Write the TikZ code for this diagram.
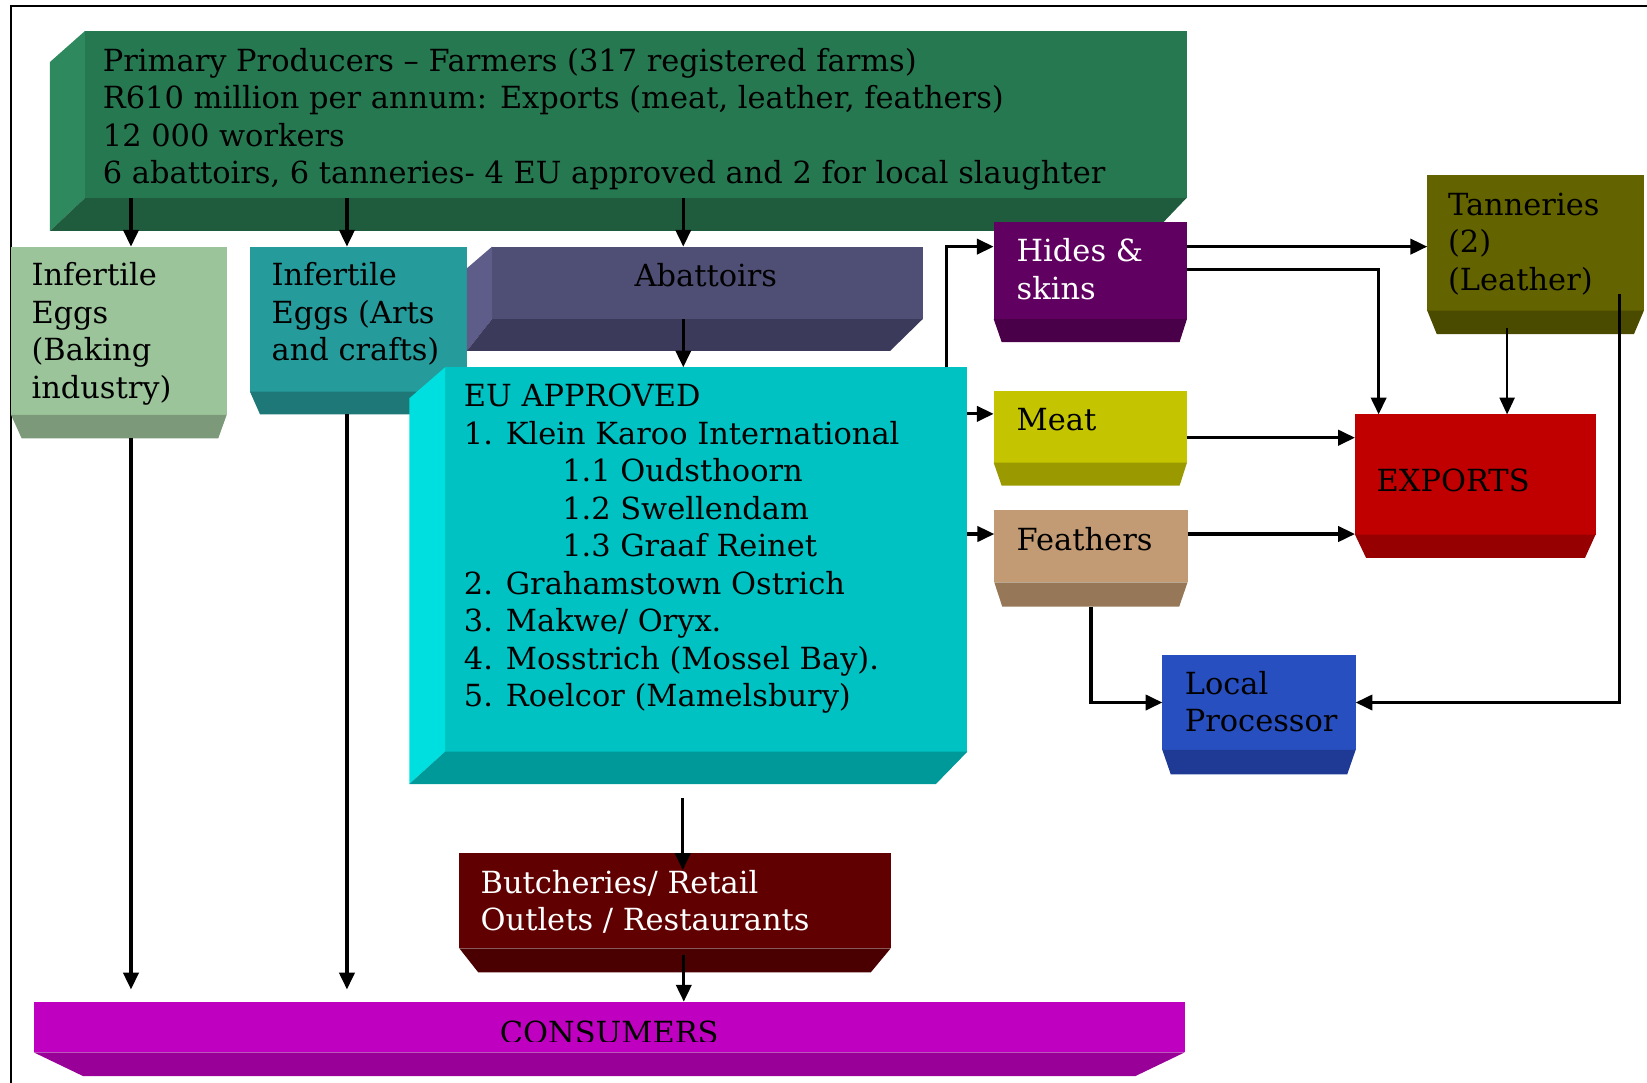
\documentclass[tikz,border=0pt]{standalone}
\usepackage{fontspec}
\setmainfont{DejaVu Serif}
\usetikzlibrary{calc,arrows.meta}
\definecolor{cPrim}{HTML}{267850}
\definecolor{cPrimL}{HTML}{2E8A5E}
\definecolor{cPrimD}{HTML}{1F5C3E}
\definecolor{cEggA}{HTML}{9CC49A}
\definecolor{cEggAD}{HTML}{7C9A7A}
\definecolor{cEggB}{HTML}{269B9B}
\definecolor{cEggBD}{HTML}{1E7878}
\definecolor{cAbat}{HTML}{4F4E75}
\definecolor{cAbatL}{HTML}{5E5C88}
\definecolor{cAbatD}{HTML}{3C3A5A}
\definecolor{cEU}{HTML}{00C2C2}
\definecolor{cEUL}{HTML}{00DFDF}
\definecolor{cEUD}{HTML}{009999}
\definecolor{cHide}{HTML}{600060}
\definecolor{cHideD}{HTML}{4A0048}
\definecolor{cTann}{HTML}{636300}
\definecolor{cTannD}{HTML}{4B4B00}
\definecolor{cMeat}{HTML}{C4C400}
\definecolor{cMeatD}{HTML}{9A9A00}
\definecolor{cFeat}{HTML}{C29B74}
\definecolor{cFeatD}{HTML}{967858}
\definecolor{cExp}{HTML}{C00000}
\definecolor{cExpD}{HTML}{960000}
\definecolor{cLoc}{HTML}{284FC0}
\definecolor{cLocD}{HTML}{1F3A94}
\definecolor{cBut}{HTML}{600000}
\definecolor{cButD}{HTML}{4A0000}
\definecolor{cCons}{HTML}{C000C0}
\definecolor{cConsD}{HTML}{980098}
\newcommand\topstrut{\rule{0pt}{24pt}}
% left + bottom bevel: node, dxL, dyTop, dyBot, dxBR, left colour, bottom colour
\newcommand\bevLB[7]{%
  \fill[#6] ($(#1.north west)+(-#2,#3)$) -- (#1.north west) -- (#1.south west) -- ($(#1.south west)+(-#2,#4)$) -- cycle;
  \fill[#7] ($(#1.south west)+(-#2,#4)$) -- (#1.south west) -- (#1.south east) -- ($(#1.south east)+(-#5,#4)$) -- cycle;}
% bottom bevel: node, depth, insetL, insetR, colour
\newcommand\bevB[5]{%
  \fill[#5] (#1.south west) -- (#1.south east) -- ($(#1.south east)+(-#4,#2)$) -- ($(#1.south west)+(#3,#2)$) -- cycle;}
\begin{document}
\begin{tikzpicture}[x=1pt,y=-1pt,
  face/.style={rectangle, inner sep=0pt, outer sep=0pt, anchor=north west, draw=none},
  lbl/.style={inner sep=0pt, outer sep=0pt, anchor=north west, align=left,
    font=\fontsize{29}{35.7}\selectfont, text=black},
  arr/.style={line width=3pt, -{Triangle[length=16pt,width=14.5pt]}},
  arrthin/.style={line width=1.7pt, -{Triangle[length=16pt,width=14.5pt]}}]
\useasboundingbox (0,0) rectangle (1568,1031);
\fill[white] (0,0) rectangle (1568,1031);
\draw[line width=2.4pt] (10.5,1031) -- (10.5,5.7) -- (1568,5.7);

% Primary producers
\node[face, fill=cPrim, minimum width=1048.7pt, minimum height=159pt] (prim) at (80.9,29.5) {};
\bevLB{prim}{33.3}{29.5}{31.4}{30}{cPrimL}{cPrimD}
\node[lbl] (primT) at (98,43.6) {\topstrut Primary Producers – Farmers (317 registered farms)\\R610 million per annum: Exports (meat, leather, feathers)\\12 000 workers\\6 abattoirs, 6 tanneries- 4 EU approved and 2 for local slaughter};

% Infertile eggs (baking)
\node[face, fill=cEggA, minimum width=205.3pt, minimum height=160.2pt] (egg1) at (10.5,234.8) {};
\bevB{egg1}{22.3}{10.1}{8}{cEggAD}
\node[lbl] (egg1T) at (30,248) {\topstrut Infertile\\Eggs\\(Baking\\industry)};

% Infertile eggs (arts)
\node[face, fill=cEggB, minimum width=206.3pt, minimum height=138.1pt] (egg2) at (238,234.8) {};
\bevB{egg2}{21.5}{9.5}{9.5}{cEggBD}
\node[lbl] (egg2T) at (258.6,248) {\topstrut Infertile\\Eggs (Arts\\and crafts)};

% Abattoirs
\node[face, fill=cAbat, minimum width=410pt, minimum height=68.9pt] (abat) at (468.5,234.8) {};
\bevLB{abat}{24}{20.6}{30.3}{31}{cAbatL}{cAbatD}
\node[lbl, anchor=base] (abatT) at (672,272.5) {Abattoirs};

% EU approved
\node[face, fill=cEU, minimum width=497.3pt, minimum height=365.9pt] (EU) at (423.7,349.7) {};
\bevLB{EU}{34}{29.5}{30.8}{30}{cEUL}{cEUD}
\node[lbl] (EUT) at (441.7,363.2) {\topstrut EU APPROVED\\1. Klein Karoo International\\\hspace*{93.6pt}1.1 Oudsthoorn\\\hspace*{93.6pt}1.2 Swellendam\\\hspace*{93.6pt}1.3 Graaf Reinet\\2. Grahamstown Ostrich\\3. Makwe/ Oryx.\\4. Mosstrich (Mossel Bay).\\5. Roelcor (Mamelsbury)};

% Hides & skins
\node[face, fill=cHide, minimum width=184pt, minimum height=92.7pt] (hides) at (946,211) {};
\bevB{hides}{21.9}{7.6}{7}{cHideD}
\node[lbl, text=white] (hidesT) at (967.9,225) {\topstrut Hides \&\\skins};

% Tanneries
\node[face, fill=cTann, minimum width=206.2pt, minimum height=129.2pt] (tann) at (1358.8,166.6) {};
\bevB{tann}{22.2}{9}{9.4}{cTannD}
\node[lbl] (tannT) at (1378.6,180.7) {\topstrut Tanneries\\(2)\\(Leather)};

% Meat
\node[face, fill=cMeat, minimum width=184pt, minimum height=68.5pt] (meat) at (946,372) {};
\bevB{meat}{21.9}{7.6}{7}{cMeatD}
\node[lbl] (meatT) at (967.9,385.4) {\topstrut Meat};

% Feathers
\node[face, fill=cFeat, minimum width=184pt, minimum height=68.4pt] (feath) at (946.6,486) {};
\bevB{feath}{23.2}{7.6}{8}{cFeatD}
\node[lbl] (feathT) at (967.9,500.3) {\topstrut Feathers};

% Exports
\node[face, fill=cExp, minimum width=229pt, minimum height=114.5pt] (exports) at (1290,394.5) {};
\bevB{exports}{22}{10.5}{10}{cExpD}
\node[lbl] (exportsT) at (1310.6,444.2) {\topstrut EXPORTS};

% Local processor
\node[face, fill=cLoc, minimum width=184pt, minimum height=90.4pt] (local) at (1106.6,623.6) {};
\bevB{local}{23.2}{8}{8}{cLocD}
\node[lbl] (localT) at (1128,637) {\topstrut Local\\Processor};

% Butcheries
\node[face, fill=cBut, minimum width=410.7pt, minimum height=91.1pt] (butch) at (437.3,811.7) {};
\bevB{butch}{22.9}{18}{19}{cButD}
\node[lbl, text=white] (butchT) at (457.6,826.5) {\topstrut Butcheries/ Retail\\Outlets / Restaurants};

% Consumers
\node[face, fill=cCons, minimum width=1096pt, minimum height=48.2pt] (cons) at (32,953.6) {};
\bevB{cons}{22.6}{47}{47}{cConsD}
\begin{scope}
  \clip (cons.north west) rectangle ($(cons.north east)+(0,38.1)$);
  \node[lbl, anchor=base] (consT) at (580,993) {CONSUMERS};
\end{scope}

% connectors
\coordinate (c1) at ($(egg1.north west)+(114.2,0)$);
\draw[arr] (prim.south -| c1) -- (c1);
\coordinate (c2) at ($(egg2.north west)+(92.3,0)$);
\draw[arr] (prim.south -| c2) -- (c2);
\coordinate (c3) at ($(abat.north west)+(182,0)$);
\draw[arr] (prim.south -| c3) -- (c3);
\coordinate (c4) at ($(EU.north west)+(226.8,0)$);
\draw[arr] (abat.south -| c4) -- (c4);

\coordinate (h1) at ($(hides.north west)+(0,23.8)$);
\coordinate (e1) at ($(EU.north west)+(477.3,0)$);
\draw[arr] (e1) |- (h1);
\coordinate (h2) at ($(hides.north east)+(0,23.8)$);
\draw[arr] (h2) -- (h2 -| tann.west);
\coordinate (h3) at ($(hides.north east)+(0,45.4)$);
\coordinate (x1) at ($(exports.north west)+(22.5,0)$);
\draw[arr] (h3) -| (x1);
\coordinate (t1) at ($(tann.south west)+(76,16.2)$);
\draw[arrthin] (t1) -- (t1 |- exports.north);
\coordinate (t2) at ($(tann.north west)+(183.2,113.4)$);
\draw[arr] (t2) |- (local.east);

\coordinate (m1) at ($(meat.north west)+(0,22)$);
\draw[arr] (m1 -| EU.east) -- (m1);
\coordinate (m2) at ($(meat.north east)+(0,44.7)$);
\draw[arr] (m2) -- (m2 -| exports.west);
\coordinate (f1) at ($(feath.north west)+(0,22.4)$);
\draw[arr] (f1 -| EU.east) -- (f1);
\coordinate (f1r) at ($(feath.north east)+(0,22.4)$);
\draw[arr] (f1r) -- (f1r -| exports.west);
\coordinate (f2) at ($(feath.south west)+(92.1,23.2)$);
\draw[arr] (f2) |- (local.west);

\coordinate (e2) at ($(EU.south west)+(226.3,44.2)$);
\coordinate (b1) at ($(butch.north west)+(0,16.6)$);
\draw[arr] (e2) -- (e2 |- b1);
\coordinate (b2) at ($(butch.south west)+(213.7,6.2)$);
\draw[arr] (b2) -- (b2 |- cons.north);
\coordinate (k1) at ($(cons.north west)+(0,-11.6)$);
\coordinate (g1) at ($(egg1.south west)+(114.2,22.3)$);
\draw[arr] (g1) -- (g1 |- k1);
\coordinate (g2) at ($(egg2.south west)+(92.3,21.5)$);
\draw[arr] (g2) -- (g2 |- k1);
\end{tikzpicture}
\end{document}
